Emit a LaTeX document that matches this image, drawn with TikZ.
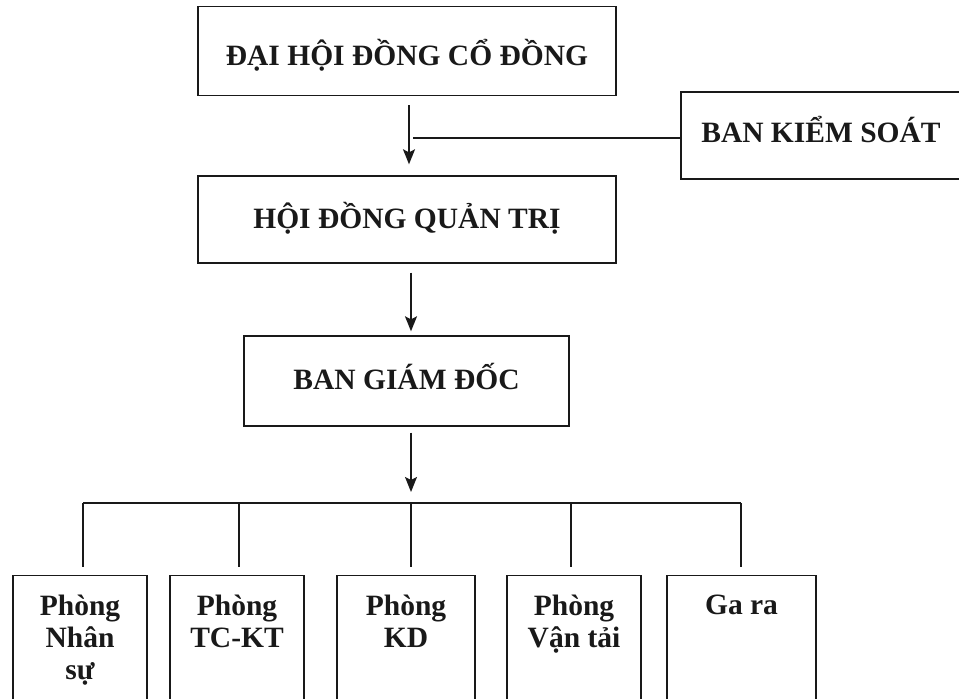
\documentclass[tikz,border=0pt]{standalone}
\usepackage{fontspec}
\setmainfont{Liberation Serif}
\usetikzlibrary{arrows.meta}
\begin{document}
\begin{tikzpicture}[x=1pt,y=-1pt,
  every node/.style={inner sep=0pt},
  box/.style={draw=black!90, line width=1.4pt, font=\bfseries\fontsize{29.5}{32}\selectfont, text=black!90, text depth=0pt},
  dept/.style={draw=black!90, line width=1.4pt, anchor=north, minimum height=160pt},
  depttext/.style={font=\bfseries\fontsize{29.5}{32}\selectfont, text=black!90, align=center, anchor=north},
  link/.style={draw=black!90, line width=1.4pt},
  arr/.style={link, -{Stealth[length=15pt,width=12pt,inset=3pt]}}
]
\useasboundingbox (0,0) rectangle (959,699);
\clip (0,0) rectangle (959,699);

% top boxes
\node[box, text height=28pt, minimum width=418pt, minimum height=89pt] (dh) at (407,51) {ĐẠI HỘI ĐỒNG CỔ ĐỒNG};
\node[box, text height=13pt, minimum width=280pt, minimum height=87pt] (bks) at (821,135.5) {BAN KIỂM SOÁT};
\node[box, text height=17pt, minimum width=418pt, minimum height=87pt] (hd) at (407,219.5) {HỘI ĐỒNG QUẢN TRỊ};
\node[box, text height=16pt, minimum width=325pt, minimum height=90pt] (bg) at (406.5,381) {BAN GIÁM ĐỐC};

% departments
\node[dept, minimum width=134pt] (p1) at (80,575) {};
\node[dept, minimum width=134pt] (p2) at (237,575) {};
\node[dept, minimum width=138pt] (p3) at (406,575) {};
\node[dept, minimum width=134pt] (p4) at (574,575) {};
\node[dept, minimum width=149pt] (p5) at (741.5,575) {};

\node[depttext] (t1) at ([yshift=-20pt]p1.north) {Phòng\\Nhân\\sự};
\node[depttext] (t2) at ([yshift=-20pt]p2.north) {Phòng\\TC-KT};
\node[depttext] (t3) at ([yshift=-20pt]p3.north) {Phòng\\KD};
\node[depttext] (t4) at ([yshift=-20pt]p4.north) {Phòng\\Vận tải};
\node[depttext] (t5) at ([yshift=-20pt]p5.north) {Ga ra};

% coordinates
\coordinate (k) at (413,138);
\coordinate (v1) at (83,503);
\coordinate (v2) at (239,503);
\coordinate (v3) at (411,503);
\coordinate (v4) at (571,503);
\coordinate (v5) at (741,503);

% arrows
\draw[arr, shorten <=9pt, shorten >=11pt] ([xshift=2pt]dh.south) -- ([xshift=2pt]hd.north);
\draw[link] (bks.west |- k) -- (k);
\draw[arr, shorten <=9pt, shorten >=4pt] ([xshift=4pt]hd.south) -- ([xshift=4pt]hd.south |- bg.north);
\draw[arr, shorten <=6pt, shorten >=11pt] (bg.south -| v3) -- (v3);

% bus
\draw[link] (v1) -- (v5);
\draw[link, shorten >=8pt] (v1) -- (v1 |- p1.north);
\draw[link, shorten >=8pt] (v2) -- (v2 |- p2.north);
\draw[link, shorten >=8pt] (v3) -- (v3 |- p3.north);
\draw[link, shorten >=8pt] (v4) -- (v4 |- p4.north);
\draw[link, shorten >=8pt] (v5) -- (v5 |- p5.north);
\end{tikzpicture}
\end{document}
